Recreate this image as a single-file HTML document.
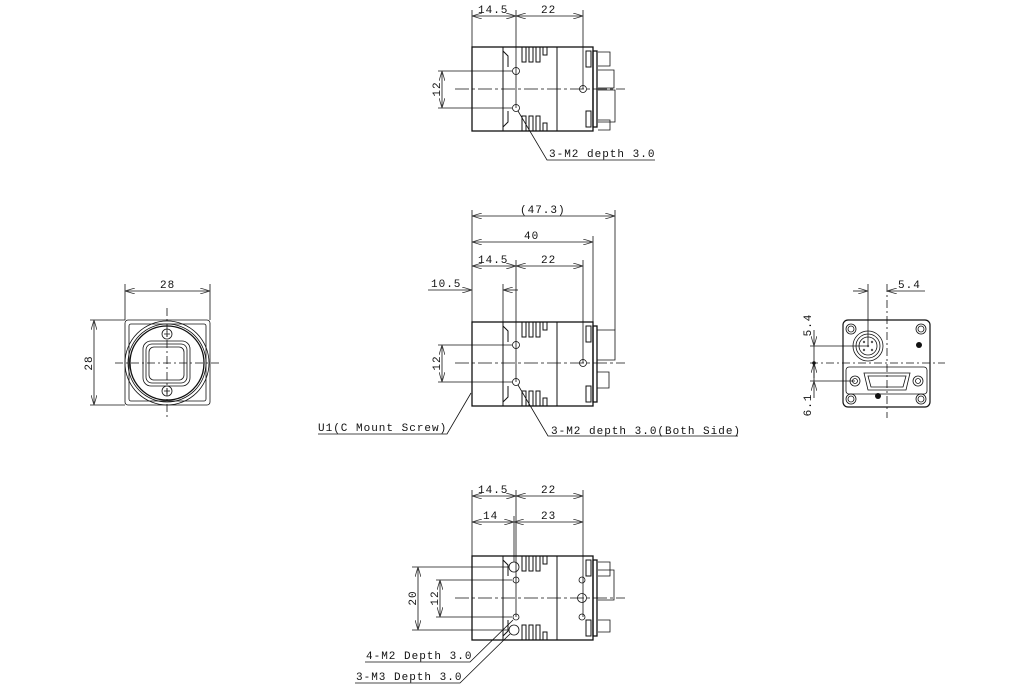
<!DOCTYPE html>
<html><head><meta charset="utf-8"><style>
html,body{margin:0;padding:0;background:#fff;}
svg{display:block;}
text{font-family:"Liberation Mono",monospace;font-size:11px;fill:#111;letter-spacing:1px;}
</style></head><body>
<svg width="1030" height="700" viewBox="0 0 1030 700" xmlns="http://www.w3.org/2000/svg">
<defs>
<marker id="a" viewBox="0 0 10 6" refX="10" refY="3" markerWidth="10" markerHeight="6" orient="auto-start-reverse" markerUnits="userSpaceOnUse">
<path d="M0,0 L10,3 L0,6" fill="none" stroke="#333" stroke-width="0.8"/></marker>
<g id="body" fill="none" stroke="#111" stroke-width="1">
<rect x="472" y="-42" width="121" height="84" stroke-width="1.3"/>
<line x1="503" y1="-42" x2="503" y2="42"/>
<path d="M503,-38 L508,-33 L508,-22 M503,38 L508,33 L508,22"/>
<path d="M522,-42 V-27 H526 V-42 M529,-42 V-27 H533 V-42 M536,-42 V-27 H540 V-42 M543,-42 V-34 H547 V-42"/>
<path d="M522,42 V27 H526 V42 M529,42 V27 H533 V42 M536,42 V27 H540 V42 M543,42 V34 H547 V42"/>
<line x1="557" y1="-42" x2="557" y2="42"/>
<rect x="586" y="-38" width="5" height="16"/>
<rect x="586" y="22" width="5" height="16"/>
<rect x="593" y="-38" width="4" height="76" stroke-width="1.3"/>
</g>
</defs>
<g fill="none" stroke="#111" stroke-width="0.8">
<!-- TOP VIEW -->
<use href="#body" transform="translate(0,89)"/>
<path d="M598,52 h12 v14 h-12 M598,70 h16 v18 h-16 M598,90 h17 v32 h-17 M598,120 h12 v10 h-12"/>
<line x1="455" y1="89" x2="625" y2="89" stroke-dasharray="14,3,3,3"/>
<circle cx="516" cy="71" r="3.5"/><circle cx="516" cy="108" r="3.5"/><circle cx="583" cy="89" r="3.5"/>
<line x1="472" y1="10" x2="472" y2="47"/><line x1="516" y1="10" x2="516" y2="108"/><line x1="583" y1="10" x2="583" y2="89"/>
<line x1="472" y1="16" x2="516" y2="16" marker-start="url(#a)" marker-end="url(#a)"/>
<line x1="516" y1="16" x2="583" y2="16" marker-start="url(#a)" marker-end="url(#a)"/>
<line x1="438" y1="71" x2="512" y2="71"/><line x1="438" y1="108" x2="512" y2="108"/>
<line x1="442" y1="71" x2="442" y2="108" marker-start="url(#a)" marker-end="url(#a)"/>
<path d="M518,111 L547,160 H655"/>
<!-- SIDE VIEW -->
<use href="#body" transform="translate(0,364)"/>
<path d="M597,330 h18 v30 h-18 M597,372 h12 v16 h-12"/>
<line x1="455" y1="363" x2="625" y2="363" stroke-dasharray="14,3,3,3"/>
<circle cx="516" cy="345" r="3.5"/><circle cx="516" cy="382" r="3.5"/><circle cx="583" cy="363" r="3.5"/>
<line x1="472" y1="210" x2="472" y2="322"/><line x1="615" y1="210" x2="615" y2="330"/>
<line x1="593" y1="236" x2="593" y2="322"/><line x1="516" y1="260" x2="516" y2="382"/><line x1="583" y1="260" x2="583" y2="363"/>
<line x1="503" y1="284" x2="503" y2="322"/>
<line x1="472" y1="216" x2="615" y2="216" marker-start="url(#a)" marker-end="url(#a)"/>
<line x1="472" y1="242" x2="593" y2="242" marker-start="url(#a)" marker-end="url(#a)"/>
<line x1="472" y1="266" x2="516" y2="266" marker-start="url(#a)" marker-end="url(#a)"/>
<line x1="516" y1="266" x2="583" y2="266" marker-start="url(#a)" marker-end="url(#a)"/>
<line x1="428" y1="290" x2="472" y2="290" marker-end="url(#a)"/>
<line x1="518" y1="290" x2="503" y2="290" marker-end="url(#a)"/>
<line x1="438" y1="345" x2="512" y2="345"/><line x1="438" y1="382" x2="512" y2="382"/>
<line x1="442" y1="345" x2="442" y2="382" marker-start="url(#a)" marker-end="url(#a)"/>
<path d="M518,385 L548,436 H738"/>
<path d="M471,393 L447,434 H318"/>
<!-- BOTTOM VIEW -->
<use href="#body" transform="translate(0,598)"/>
<path d="M598,562 h12 v14 h-12 M598,570 h16 v30 h-16 M598,620 h12 v12 h-12"/>
<line x1="455" y1="598" x2="625" y2="598" stroke-dasharray="14,3,3,3"/>
<circle cx="514" cy="567" r="5"/><circle cx="514" cy="630" r="5"/>
<circle cx="516" cy="580" r="3"/><circle cx="516" cy="617" r="3"/>
<circle cx="582" cy="580" r="3"/><circle cx="582" cy="617" r="3"/><circle cx="582" cy="598" r="4.5"/>
<line x1="472" y1="490" x2="472" y2="556"/><line x1="516" y1="490" x2="516" y2="617"/><line x1="583" y1="490" x2="583" y2="617"/>
<line x1="514" y1="516" x2="514" y2="562"/>
<line x1="472" y1="496" x2="516" y2="496" marker-start="url(#a)" marker-end="url(#a)"/>
<line x1="516" y1="496" x2="583" y2="496" marker-start="url(#a)" marker-end="url(#a)"/>
<line x1="472" y1="522" x2="514" y2="522" marker-start="url(#a)" marker-end="url(#a)"/>
<line x1="514" y1="522" x2="583" y2="522" marker-start="url(#a)" marker-end="url(#a)"/>
<line x1="412" y1="567" x2="509" y2="567"/><line x1="412" y1="630" x2="509" y2="630"/>
<line x1="418" y1="567" x2="418" y2="630" marker-start="url(#a)" marker-end="url(#a)"/>
<line x1="436" y1="580" x2="512" y2="580"/><line x1="436" y1="617" x2="512" y2="617"/>
<line x1="440" y1="580" x2="440" y2="617" marker-start="url(#a)" marker-end="url(#a)"/>
<path d="M513,620 L470,662 H365"/>
<path d="M510,634 L460,683 H355"/>
<!-- FRONT VIEW -->
<rect x="125" y="320" width="85" height="85" rx="3"/>
<rect x="129" y="324" width="77" height="77" rx="2"/>
<circle cx="167" cy="363" r="42"/><circle cx="167" cy="363" r="39"/><circle cx="167" cy="363" r="37" stroke-width="1.3"/>
<rect x="143" y="341" width="47" height="45" rx="8"/><rect x="146" y="344" width="41" height="39" rx="6"/><rect x="149" y="347" width="35" height="33" rx="5"/>
<circle cx="167" cy="334" r="5"/><circle cx="167" cy="391" r="5"/>
<path d="M164,334 h6 M167,331 v6 M164,391 h6 M167,388 v6"/>
<line x1="167" y1="308" x2="167" y2="418" stroke-dasharray="8,3,2,3"/>
<line x1="115" y1="363" x2="222" y2="363" stroke-dasharray="8,3,2,3"/>
<line x1="125" y1="284" x2="125" y2="320"/><line x1="210" y1="284" x2="210" y2="320"/>
<line x1="125" y1="291" x2="210" y2="291" marker-start="url(#a)" marker-end="url(#a)"/>
<line x1="90" y1="320" x2="125" y2="320"/><line x1="90" y1="405" x2="125" y2="405"/>
<line x1="94" y1="320" x2="94" y2="405" marker-start="url(#a)" marker-end="url(#a)"/>
<!-- REAR VIEW -->
<rect x="843" y="320" width="87" height="87" rx="5" stroke-width="1.2"/>
<circle cx="851" cy="329" r="5"/><circle cx="851" cy="329" r="3"/>
<circle cx="921" cy="329" r="5"/><circle cx="921" cy="329" r="3"/>
<circle cx="851" cy="399" r="5"/><circle cx="851" cy="399" r="3"/>
<circle cx="921" cy="399" r="5"/><circle cx="921" cy="399" r="3"/>
<circle cx="868" cy="346" r="15"/><circle cx="868" cy="346" r="12"/><circle cx="868" cy="346" r="9"/>
<rect x="846" y="367" width="81" height="27" rx="3"/>
<circle cx="855" cy="381" r="5"/><circle cx="855" cy="381" r="2.5"/>
<circle cx="918" cy="381" r="5"/><circle cx="918" cy="381" r="2.5"/>
<path d="M864,373 H910 L906,390 H868 Z"/><path d="M868,376 H906 L903,387 H871 Z"/>
<line x1="887" y1="284" x2="887" y2="418" stroke-dasharray="8,3,2,3"/>
<line x1="810" y1="363" x2="945" y2="363" stroke-dasharray="8,3,2,3"/>
<line x1="868" y1="284" x2="868" y2="346"/>
<line x1="853" y1="291" x2="868" y2="291" marker-end="url(#a)"/>
<line x1="925" y1="291" x2="887" y2="291" marker-end="url(#a)"/>
<line x1="810" y1="346" x2="868" y2="346"/><line x1="810" y1="381" x2="855" y2="381"/>
<line x1="814" y1="330" x2="814" y2="346" marker-end="url(#a)"/>
<line x1="814" y1="378" x2="814" y2="363" marker-end="url(#a)"/>
<line x1="814" y1="398" x2="814" y2="381" marker-end="url(#a)"/>
<line x1="814" y1="346" x2="814" y2="381"/>
</g>
<g fill="#111">
<circle cx="919" cy="345" r="3"/><circle cx="878" cy="396" r="3"/><circle cx="814" cy="363" r="1.8"/>
<g fill="#555"><circle cx="864" cy="342" r="1.2"/><circle cx="872" cy="342" r="1.2"/><circle cx="864" cy="350" r="1.2"/><circle cx="872" cy="350" r="1.2"/><circle cx="868" cy="346" r="1.2"/></g>
</g>
<text x="478" y="13">14.5</text><text x="541" y="13">22</text>
<text transform="translate(440,89) rotate(-90)" text-anchor="middle">12</text>
<text x="549" y="157">3-M2 depth 3.0</text>
<text x="520" y="213">(47.3)</text><text x="524" y="239">40</text>
<text x="478" y="263">14.5</text><text x="541" y="263">22</text>
<text x="431" y="287">10.5</text>
<text transform="translate(440,363) rotate(-90)" text-anchor="middle">12</text>
<text x="318" y="431">U1(C Mount Screw)</text>
<text x="551" y="434">3-M2 depth 3.0(Both Side)</text>
<text x="478" y="493">14.5</text><text x="541" y="493">22</text>
<text x="483" y="519">14</text><text x="541" y="519">23</text>
<text transform="translate(416,598) rotate(-90)" text-anchor="middle">20</text>
<text transform="translate(438,598) rotate(-90)" text-anchor="middle">12</text>
<text x="366" y="659">4-M2 Depth 3.0</text>
<text x="356" y="680">3-M3 Depth 3.0</text>
<text x="160" y="288">28</text>
<text transform="translate(92,363) rotate(-90)" text-anchor="middle">28</text>
<text x="898" y="288">5.4</text>
<text transform="translate(811,325) rotate(-90)" text-anchor="middle">5.4</text>
<text transform="translate(811,405) rotate(-90)" text-anchor="middle">6.1</text>
</svg>
</body></html>
